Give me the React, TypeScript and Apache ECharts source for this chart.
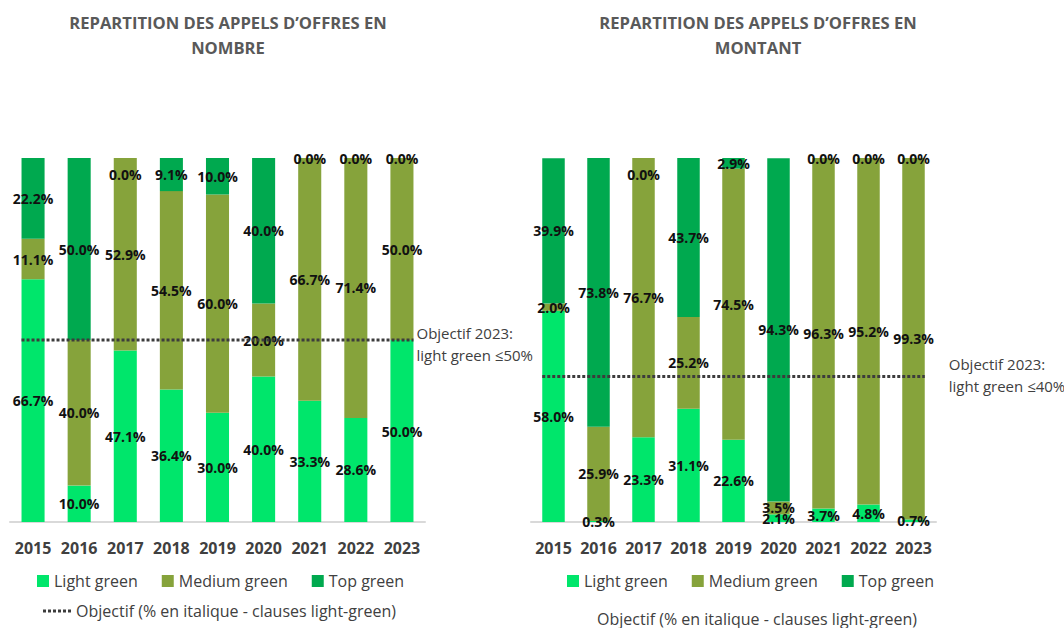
import React, { useEffect, useRef } from "react";
import * as echarts from "echarts";

const years = ["2015", "2016", "2017", "2018", "2019", "2020", "2021", "2022", "2023"];

// Répartition en nombre (%)
const nbLight = [66.7, 10.0, 47.1, 36.4, 30.0, 40.0, 33.3, 28.6, 50.0];
const nbMedium = [11.1, 40.0, 52.9, 54.5, 60.0, 20.0, 66.7, 71.4, 50.0];
const nbTop = [22.2, 50.0, 0.0, 9.1, 10.0, 40.0, 0.0, 0.0, 0.0];
const nbObjective = 50;

// Répartition en montant (%)
const mtLight = [58.0, 0.3, 23.3, 31.1, 22.6, 2.1, 3.7, 4.8, 0.7];
const mtMedium = [2.0, 25.9, 76.7, 25.2, 74.5, 3.5, 96.3, 95.2, 99.3];
const mtTop = [39.9, 73.8, 0.0, 43.7, 2.9, 94.3, 0.0, 0.0, 0.0];
const mtObjective = 40;

const seriesNames = ["Light green", "Medium green", "Top green"];
const objectiveName = "Objectif (% en italique - clauses light-green)";
const titleNb = "REPARTITION DES APPELS D\u2019OFFRES EN\nNOMBRE";
const titleMt = "REPARTITION DES APPELS D\u2019OFFRES EN\nMONTANT";
const noteNb = "Objectif 2023:\nlight green \u226450%";
const noteMt = "Objectif 2023:\nlight green \u226440%";

const COLORS = ["#00E66B", "#86A33B", "#00A94F"];
const FONT = "'Open Sans', 'Noto Sans', sans-serif";
const TEXT = "#404040";
const DOTS_ICON =
  "path://M0 0h3v3H0z M5 0h3v3H5z M10 0h3v3h-3z M15 0h3v3h-3z M20 0h3v3h-3z M25 0h3v3h-3z";

export default function App() {
  const ref = useRef<HTMLDivElement>(null);

  useEffect(() => {
    if (!ref.current) return;
    const chart = echarts.init(ref.current, null, { renderer: "svg" });

    const labelCfg = {
      show: true,
      position: "inside",
      formatter: (p: any) => Number(p.value).toFixed(1) + "%",
      fontFamily: FONT,
      fontWeight: "bold",
      fontSize: 14,
      color: "#111",
    };

    const prep = (arr: number[], top: boolean) =>
      arr.map((v, i) =>
        top && v === 0 && i === 2 ? { value: v, label: { offset: [0, 16] } } : v
      );

    const barSeries = (data: number[][], stack: string, axis: number) =>
      data.map((d, k) => ({
        name: seriesNames[k],
        type: "bar",
        stack,
        xAxisIndex: axis,
        yAxisIndex: axis,
        barWidth: "50%",
        itemStyle: { color: COLORS[k] },
        label: labelCfg,
        data: prep(d, k === 2),
        z: 2,
      }));

    const lineSeries = (
      val: number,
      axisX: number,
      axisY: number,
      note: string,
      dist: number,
      dy: number
    ) => ({
      name: objectiveName,
      type: "line",
      xAxisIndex: axisX,
      yAxisIndex: axisY,
      symbol: "none",
      lineStyle: { color: "#3c3c3c", width: 3, type: [3, 2] },
      itemStyle: { color: "#3c3c3c" },
      data: [
        [-0.25, val],
        [8.25, val],
      ],
      endLabel: {
        show: true,
        formatter: note,
        fontFamily: FONT,
        fontSize: 15,
        lineHeight: 22,
        color: TEXT,
        align: "left",
        distance: dist,
        offset: [0, dy],
      },
      z: 5,
    });

    const catAxis = (grid: number) => ({
      type: "category",
      gridIndex: grid,
      data: years,
      axisLine: { lineStyle: { color: "#d9d9d9", width: 2 } },
      axisTick: { show: false },
      axisLabel: {
        interval: 0,
        color: TEXT,
        fontFamily: FONT,
        fontWeight: "bold",
        fontSize: 16,
        margin: 18,
      },
    });

    const hiddenValX = (grid: number) => ({
      type: "value",
      gridIndex: grid,
      min: -0.5,
      max: 8.5,
      show: false,
      position: "top",
    });

    const valY = (grid: number) => ({
      type: "value",
      gridIndex: grid,
      min: 0,
      max: 100,
      show: false,
    });

    const titleStyle = {
      color: "#595959",
      fontFamily: FONT,
      fontWeight: "bold",
      fontSize: 16.6,
      lineHeight: 25,
    };

    const legendText = { color: TEXT, fontFamily: FONT, fontSize: 16 };

    chart.setOption({
      animation: false,
      backgroundColor: "#ffffff",
      title: [
        { text: titleNb, left: 223, top: 5, textAlign: "center", textStyle: titleStyle },
        { text: titleMt, left: 753, top: 5, textAlign: "center", textStyle: titleStyle },
      ],
      legend: [
        {
          data: seriesNames,
          left: 37,
          top: 573,
          padding: 0,
          itemWidth: 12,
          itemHeight: 12,
          itemGap: 24,
          icon: "rect",
          textStyle: legendText,
        },
        {
          data: [{ name: objectiveName, icon: DOTS_ICON, itemStyle: { color: "#3c3c3c" } }],
          left: 43,
          top: 603,
          padding: 0,
          itemWidth: 28,
          itemHeight: 3,
          textStyle: legendText,
        },
        {
          data: seriesNames,
          left: 567,
          top: 573,
          padding: 0,
          itemWidth: 12,
          itemHeight: 12,
          itemGap: 24,
          icon: "rect",
          textStyle: legendText,
        },
        {
          data: [{ name: objectiveName, icon: "none" }],
          left: 580,
          top: 611,
          padding: 0,
          itemWidth: 12,
          itemHeight: 12,
          textStyle: legendText,
        },
      ],
      grid: [
        { left: 10, top: 158, width: 415, height: 364 },
        { left: 531, top: 158, width: 405, height: 364 },
      ],
      xAxis: [catAxis(0), catAxis(1), hiddenValX(0), hiddenValX(1)],
      yAxis: [valY(0), valY(1)],
      series: [
        ...barSeries([nbLight, nbMedium, nbTop], "nb", 0),
        ...barSeries([mtLight, mtMedium, mtTop], "mt", 1),
        lineSeries(nbObjective, 2, 0, noteNb, 3, 4),
        lineSeries(mtObjective, 3, 1, noteMt, 24, -1.5),
      ],
    });

    return () => chart.dispose();
  }, []);

  return (
    <div
      ref={ref}
      style={{ position: "fixed", left: 0, top: 0, width: 1064, height: 628, background: "#fff" }}
    />
  );
}
